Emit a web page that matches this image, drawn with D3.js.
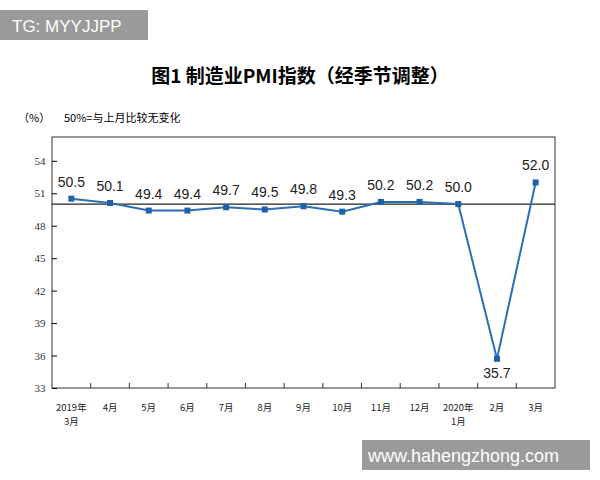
<!DOCTYPE html><html><head><meta charset="utf-8"><script src="https://cdn.jsdelivr.net/npm/d3@7"></script>
<style>body{margin:0;background:#fff}</style></head><body><svg id="c" width="600" height="480"></svg><script>
const categories=[["2019年","3月"],["4月"],["5月"],["6月"],["7月"],["8月"],["9月"],["10月"],["11月"],["12月"],["2020年","1月"],["2月"],["3月"]];
const values=[50.5,50.1,49.4,49.4,49.7,49.5,49.8,49.3,50.2,50.2,50.0,35.7,52.0];
const yTicks=[33,36,39,42,45,48,51,54];
const svg=d3.select("#c");
const L=52,R=555,T=137,B=388;
const x=d3.scaleBand().domain(d3.range(values.length)).range([L,R]);
const y=d3.scaleLinear().domain([33,56.2]).range([B,T]);
svg.append("rect").attr("x",0).attr("y",10).attr("width",148).attr("height",30).attr("fill","#9a9a9a");
svg.append("text").attr("x",12).attr("y",32).attr("fill","#fff").attr("font-family","Liberation Sans, Arial").attr("font-size",17).text("TG: MYYJJPP");
svg.append("text").attr("x",300).attr("y",83).attr("text-anchor","middle").attr("font-family","Noto Sans CJK SC").attr("font-weight","bold").attr("font-size",19).text("图1  制造业PMI指数（经季节调整）");
svg.append("text").attr("x",18).attr("y",122).attr("font-family","Noto Sans CJK SC").attr("font-size",11).text("（%）");
svg.append("text").attr("x",64).attr("y",122).attr("font-family","Noto Sans CJK SC").attr("font-size",11).text("50%=与上月比较无变化");
svg.append("rect").attr("x",L).attr("y",T).attr("width",R-L).attr("height",B-T).attr("fill","none").attr("stroke","#333");
const ya=svg.append("g").attr("transform",`translate(${L},0)`).call(d3.axisLeft(y).tickValues(yTicks).tickSize(-5).tickPadding(18));
ya.select(".domain").remove();
ya.selectAll("text").attr("font-family","Liberation Serif").attr("font-size",11).attr("fill","#333").attr("text-anchor","middle").attr("dx",6);
svg.selectAll(".xt").data(d3.range(1,values.length)).join("line").attr("x1",i=>x(i)).attr("x2",i=>x(i)).attr("y1",B).attr("y2",B-5).attr("stroke","#333");
svg.append("line").attr("x1",L).attr("x2",R).attr("y1",y(50)).attr("y2",y(50)).attr("stroke","#222").attr("stroke-width",1.2);
const cx=i=>x(i)+x.bandwidth()/2;
svg.append("path").datum(values).attr("d",d3.line().x((d,i)=>cx(i)).y(d=>y(d))).attr("fill","none").attr("stroke","#2a6fb5").attr("stroke-width",2);
svg.selectAll(".m").data(values).join("rect").attr("x",(d,i)=>cx(i)-3).attr("y",d=>y(d)-3).attr("width",6).attr("height",6).attr("fill","#2060a8");
svg.selectAll(".lb").data(values).join("text").attr("x",(d,i)=>cx(i)).attr("y",(d,i)=>i==11?y(d)+19:y(d)-12).attr("text-anchor","middle").attr("font-family","Liberation Sans, Arial").attr("font-size",14).attr("fill","#222").text(d=>d.toFixed(1));
categories.forEach((c,i)=>c.forEach((t,j)=>svg.append("text").attr("x",cx(i)).attr("y",411+j*14).attr("text-anchor","middle").attr("font-family","Noto Sans CJK SC").attr("font-size",9.5).attr("fill","#222").text(t)));
svg.append("rect").attr("x",362).attr("y",440).attr("width",228).attr("height",30).attr("fill","#9a9a9a");
svg.append("text").attr("x",368).attr("y",462).attr("fill","#fff").attr("font-family","Liberation Sans, Arial").attr("font-size",18).text("www.hahengzhong.com");
</script></body></html>
